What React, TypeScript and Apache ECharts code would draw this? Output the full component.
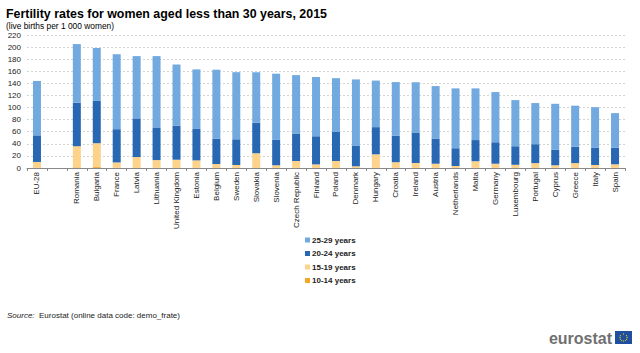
import React, { useEffect, useRef } from "react";
import * as echarts from "echarts";

const categories = ["EU-28", "", "Romania", "Bulgaria", "France", "Latvia", "Lithuania", "United Kingdom", "Estonia", "Belgium", "Sweden", "Slovakia", "Slovenia", "Czech Republic", "Finland", "Poland", "Denmark", "Hungary", "Croatia", "Ireland", "Austria", "Netherlands", "Malta", "Germany", "Luxembourg", "Portugal", "Cyprus", "Greece", "Italy", "Spain"];

const age10to14 = [0.2, null, 1.0, 1.5, 0.2, 0.1, 0.1, 0.2, 0.1, 0.1, 0.0, 0.9, 0.0, 0.2, 0.0, 0.1, 0.0, 0.6, 0.1, 0.1, 0.1, 0.0, 0.2, 0.1, 0.0, 0.1, 0.1, 0.1, 0.0, 0.1];
const age15to19 = [9.8, null, 35, 39.5, 9, 18, 13, 13.5, 12.5, 6.5, 5, 23.5, 4.5, 11.4, 6, 11.5, 2.8, 22, 9.5, 8.2, 7, 3.3, 11, 7, 5.3, 8, 4.4, 8, 5, 6];
const age20to24 = [44, null, 72, 70, 55, 64, 54, 56.5, 52, 42, 42.5, 50.5, 42, 45.5, 46.5, 48, 33.7, 45, 44, 50.5, 41.7, 29.4, 35, 35.5, 30.7, 31.3, 25.5, 27, 28.8, 27.7];
const age25to29 = [90, null, 97, 87.5, 124, 103, 118, 101, 98.5, 114, 111, 83.5, 109.5, 96.5, 98, 89, 110, 77, 88.5, 83, 86.7, 99, 85.5, 83, 76.3, 68, 76.2, 68, 66.8, 57];

const legendOrder = ["25-29 years", "20-24 years", "15-19 years", "10-14 years"];

const FONT = "Liberation Sans, Arial, sans-serif";

export default function App() {
  const ref = useRef<HTMLDivElement>(null);
  useEffect(() => {
    if (!ref.current) return;
    const chart = echarts.init(ref.current, null, { renderer: "svg" });
    const mk = (name: string, data: (number | null)[], color: string) => ({
      name,
      type: "bar",
      stack: "total",
      data,
      barWidth: 8,
      itemStyle: { color },
    });
    const fx = 615, fy = 331, fw = 17, fh = 13;
    const stars: any[] = [];
    for (let i = 0; i < 12; i++) {
      const a = (i / 12) * Math.PI * 2;
      stars.push({
        type: "circle",
        shape: { cx: fx + fw / 2 + Math.cos(a) * 3.6, cy: fy + fh / 2 + Math.sin(a) * 3.6, r: 0.55 },
        style: { fill: "#ffdd00" },
      });
    }
    chart.setOption({
      animation: false,
      textStyle: { fontFamily: FONT },
      title: [
        {
          text: "Fertility rates for women aged less than 30 years, 2015",
          left: 1,
          top: 3,
          textStyle: { fontSize: 12.4, fontWeight: "bold", color: "#000", fontFamily: FONT },
        },
        {
          text: "(live births per 1 000 women)",
          left: 1,
          top: 17,
          textStyle: { fontSize: 8.4, fontWeight: "normal", color: "#000", fontFamily: FONT },
        },
      ],
      legend: {
        orient: "vertical",
        left: 300,
        top: 231,
        itemWidth: 5,
        itemHeight: 5,
        itemGap: 5.5,
        icon: "rect",
        data: legendOrder,
        textStyle: { fontSize: 8, fontWeight: "bold", color: "#222", fontFamily: FONT, padding: [0, 0, 0, -3] },
      },
      grid: { left: 27, right: 15, top: 35, height: 133, containLabel: false },
      xAxis: {
        type: "category",
        data: categories,
        axisLine: { lineStyle: { color: "#888" } },
        axisTick: { show: true, length: 3, lineStyle: { color: "#888" } },
        axisLabel: { rotate: 90, fontSize: 8, color: "#222", margin: 4, interval: 0, fontFamily: FONT },
      },
      yAxis: {
        type: "value",
        min: 0,
        max: 220,
        interval: 20,
        axisLine: { show: false },
        axisTick: { show: false },
        axisLabel: { fontSize: 8, color: "#222", margin: 6, fontFamily: FONT },
        splitLine: { lineStyle: { color: "#c8c8c8", type: [2, 2], width: 0.8 } },
      },
      series: [
        mk("10-14 years", age10to14, "#f4a62a"),
        mk("15-19 years", age15to19, "#fdd28a"),
        mk("20-24 years", age20to24, "#2867b2"),
        mk("25-29 years", age25to29, "#72a9de"),
      ],
      graphic: [
        {
          type: "text",
          left: 7,
          top: 311,
          style: {
            rich: {
              i: { fontStyle: "italic", fontSize: 8, fill: "#222", fontFamily: FONT },
              n: { fontSize: 8, fill: "#222", fontFamily: FONT },
            },
            text: "{i|Source:}{n|  Eurostat (online data code: demo_frate)}",
          },
        },
        {
          type: "text",
          x: 612,
          y: 338,
          style: {
            text: "eurostat",
            fontSize: 16,
            fontWeight: "bold",
            fill: "#707070",
            fontFamily: FONT,
            align: "right",
            verticalAlign: "middle",
          },
        },
        {
          type: "rect",
          shape: { x: fx, y: fy, width: fw, height: fh },
          style: { fill: "#1f4fa0" },
        },
        ...stars,
      ],
    });
    return () => chart.dispose();
  }, []);
  return (
    <div
      ref={ref}
      style={{ position: "fixed", left: 0, top: 0, width: 640, height: 353, background: "#fff" }}
    />
  );
}
